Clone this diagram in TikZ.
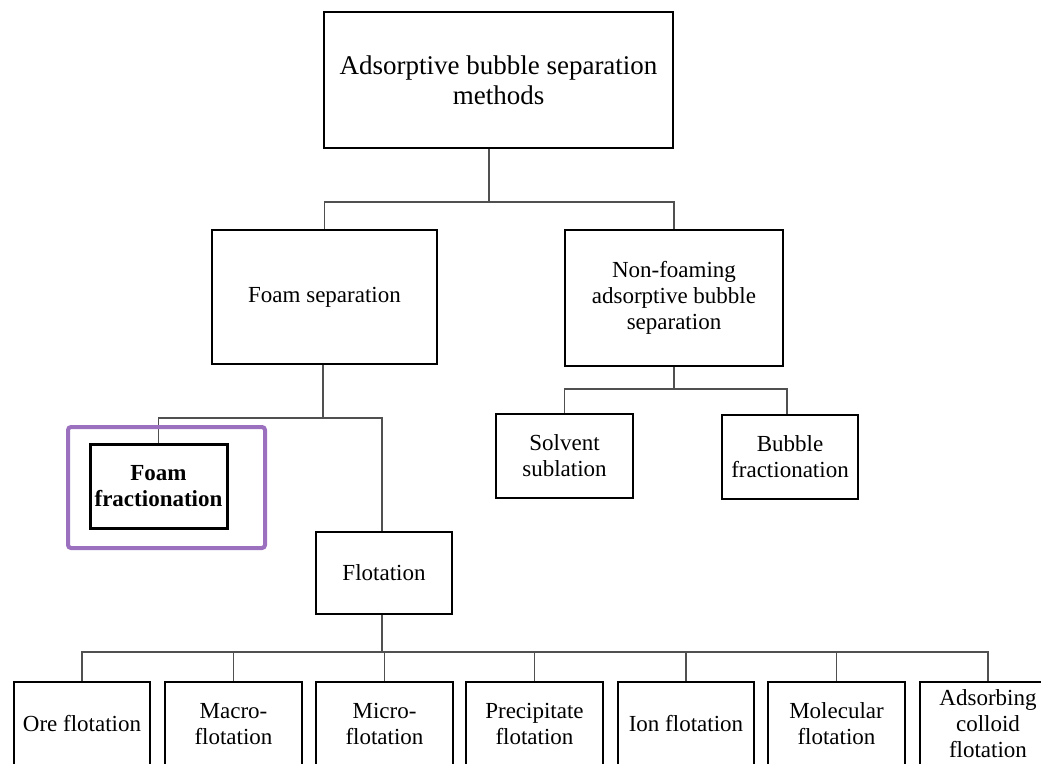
\documentclass[tikz,border=0pt]{standalone}
\usepackage{fontspec}
\setmainfont{Liberation Serif}
\usetikzlibrary{calc}
\definecolor{conn}{RGB}{80,80,80}
\definecolor{hlpurple}{RGB}{155,112,190}
\begin{document}
\begin{tikzpicture}[x=1pt,y=-1pt,
  box/.style={draw=black,line width=1.8pt,align=center,inner sep=0pt,
    font=\fontsize{23}{26}\selectfont},
  bigbox/.style={box,font=\fontsize{27}{30}\selectfont},
  boldbox/.style={box,line width=3pt,font=\fontsize{23}{26}\selectfont\bfseries},
  hlframe/.style={draw=hlpurple,line width=4pt,rounded corners=3pt,inner sep=0pt},
  link/.style={draw=conn,line width=1.3pt}]
\useasboundingbox (0,0) rectangle (1041,763);
\clip (0,0) rectangle (1041,763);
\fill[white] (0,0) rectangle (1041,763);

\coordinate (bus1) at (0,202);
\coordinate (bus2) at (0,418);
\coordinate (bus3) at (0,389);
\coordinate (bus4) at (0,652);

\node[bigbox,minimum width=349,minimum height=136] (top) at (498.5,80) {Adsorptive bubble separation\\methods};
\node[box,minimum width=225,minimum height=134] (fs) at (324.5,297) {Foam separation};
\node[box,minimum width=218,minimum height=136] (nf) at (674,298) {Non-foaming\\adsorptive bubble\\separation};
\node[box,minimum width=137,minimum height=84] (ss) at (564.5,456) {Solvent\\sublation};
\node[box,minimum width=136,minimum height=84] (bf) at (790,457) {Bubble\\fractionation};
\node[boldbox,minimum width=137,minimum height=84] (ff) at (158.5,486) {Foam\\fractionation};
\node[box,minimum width=136,minimum height=82] (fl) at (384,573) {Flotation};

\node[box,minimum width=136,minimum height=84] (o1) at (82,724) {Ore flotation};
\node[box,minimum width=137,minimum height=84] (o2) at (233.5,724) {Macro-\\flotation};
\node[box,minimum width=137,minimum height=84] (o3) at (384.5,724) {Micro-\\flotation};
\node[box,minimum width=137,minimum height=84] (o4) at (534.5,724) {Precipitate\\flotation};
\node[box,minimum width=136,minimum height=84] (o5) at (686,724) {Ion flotation};
\node[box,minimum width=137,minimum height=84] (o6) at (836.5,724) {Molecular\\flotation};
\node[box,minimum width=136,minimum height=84] (o7) at (988,724) {Adsorbing\\colloid\\flotation};

% top level
\draw[link] ([xshift=-9.5pt]top.south) -- ([xshift=-9.5pt]top.south |- bus1);
\draw[link] (fs.north) -- (fs.north |- bus1) -- (nf.north |- bus1) -- (nf.north);
% foam separation
\draw[link] ([xshift=-1.5pt]fs.south) -- ([xshift=-1.5pt]fs.south |- bus2);
\draw[link] (ff.north) -- (ff.north |- bus2) -- ([xshift=-2pt]fl.north |- bus2) -- ([xshift=-2pt]fl.north);
% non-foaming
\draw[link] (nf.south) -- (nf.south |- bus3);
\draw[link] (ss.north) -- (ss.north |- bus3) -- ([xshift=-3pt]bf.north |- bus3) -- ([xshift=-3pt]bf.north);
% flotation
\draw[link] ([xshift=-2pt]fl.south) -- ([xshift=-2pt]fl.south |- bus4);
\draw[link] (o1.north) -- (o1.north |- bus4) -- (o7.north |- bus4) -- (o7.north);
\foreach \n in {o2,o3,o4,o5,o6} {
  \draw[link] (\n.north |- bus4) -- (\n.north);
}

% highlight frame
\node[hlframe,minimum width=197,minimum height=121] (hl) at (166.5,487.5) {};
\end{tikzpicture}
\end{document}
